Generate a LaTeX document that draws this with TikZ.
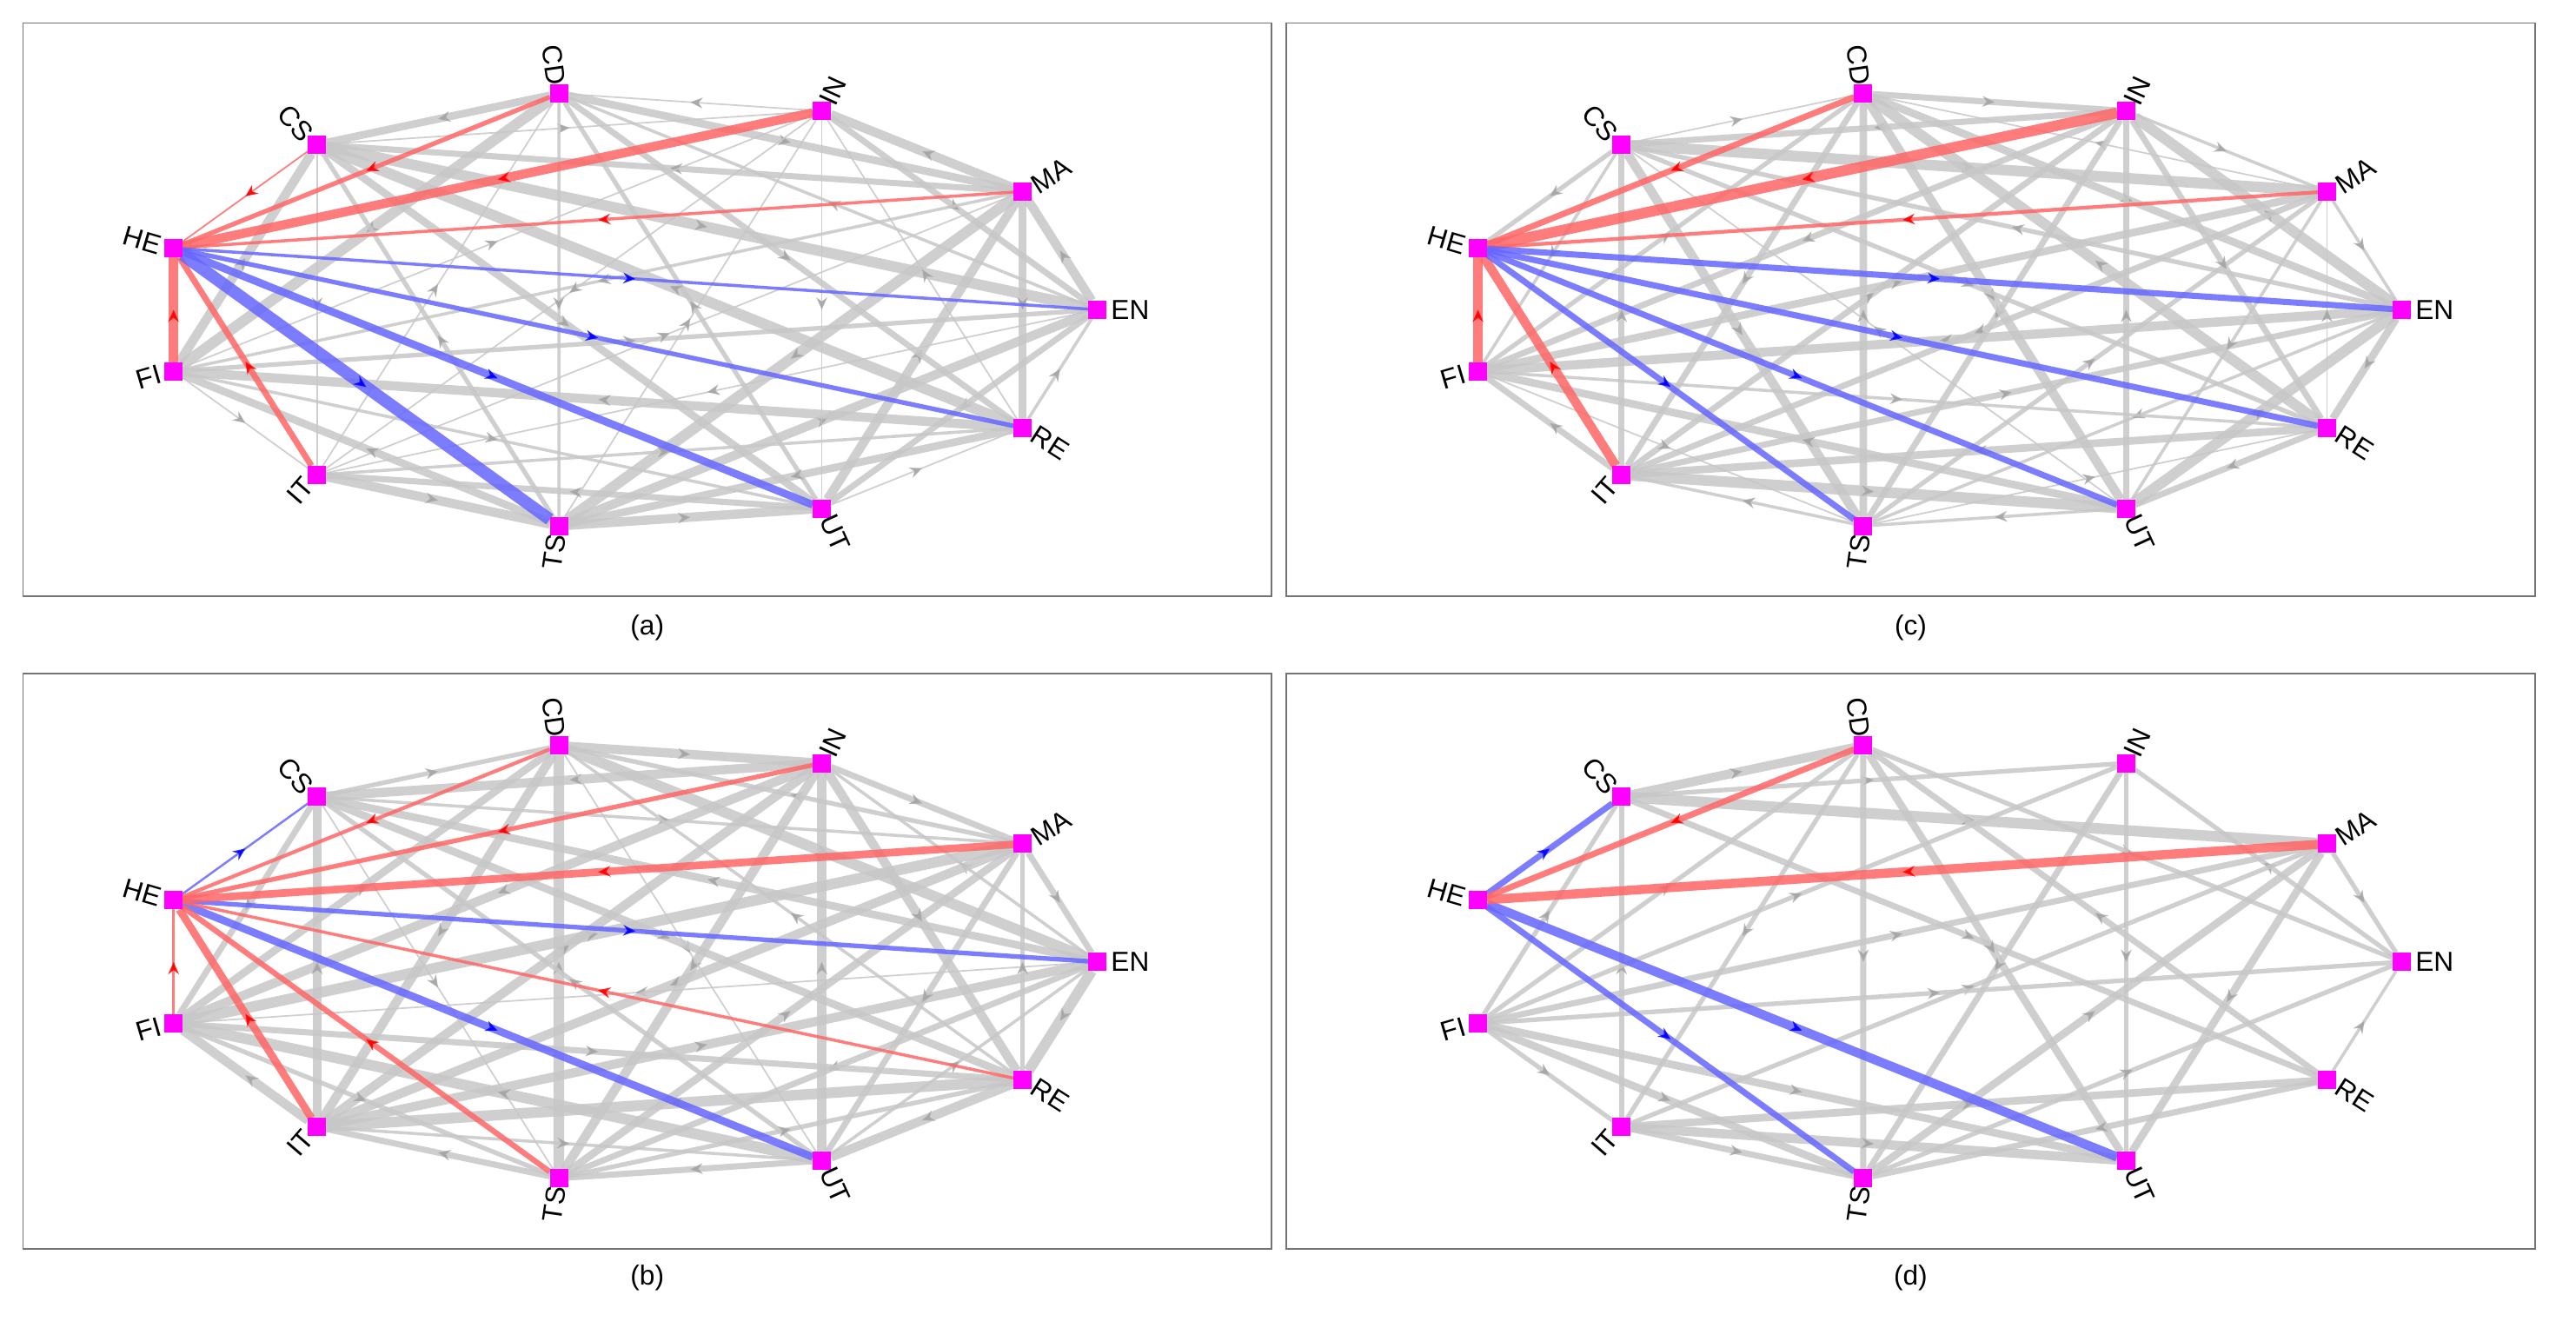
\documentclass[tikz,border=0pt]{standalone}
\usepackage{fontspec}
\setmainfont{Liberation Sans}
\usetikzlibrary{decorations.markings,arrows.meta}
\pgfdeclarelayer{bg}\pgfsetlayers{bg,main}
\definecolor{mag}{RGB}{255,0,255}
\tikzset{
 x=0.0189cm, y=-0.0189cm,
 sq/.style={fill=mag, draw=none, minimum size=0.21cm, inner sep=0pt, outer sep=0pt},
 lab/.style={font=\fontsize{9pt}{10pt}\selectfont, inner sep=0.5pt},
 captxt/.style={font=\fontsize{9pt}{10pt}\selectfont},
 fr/.style={draw=black!55, line width=0.5pt},
 mid/.style={postaction={decorate},decoration={markings,mark=at position 0.5 with {\arrow[#1]{Stealth[length=4pt,width=3.5pt]}}}},
 ge/.style={draw=black!22, opacity=0.85, mid=black!35},
 hr/.style={draw=red!60, opacity=0.85, mid=red},
 hb/.style={draw=blue!60, opacity=0.85, mid=blue},
}
\def\rr{r}\def\bb{b}
\newcommand\mynodes[3]{%
 \foreach \k/\t in {0/EN,1/MA,2/IN,3/CD,4/CS,5/HE,6/FI,7/IT,8/TS,9/UT,10/RE}{%
  \pgfmathsetmacro\ang{\k*360/11}%
  \node[sq] (#1\k) at ({#2+287*cos(\ang)},{#3-133*sin(\ang)}) {};
  \pgfmathsetmacro\lx{#2+294*cos(\ang)}\pgfmathsetmacro\ly{#3-137*sin(\ang)}%
  \ifdim\ang pt>90pt\ifdim\ang pt<270pt
   \pgfmathsetmacro\rot{\ang-180}\node[lab,anchor=east,rotate=\rot] (#1L\k) at (\lx,\ly) {\t};
  \else \node[lab,anchor=west,rotate=\ang] (#1L\k) at (\lx,\ly) {\t};\fi
  \else \node[lab,anchor=west,rotate=\ang] (#1L\k) at (\lx,\ly) {\t};\fi
 }}
\newcommand\fullgray[2]{%
 \foreach \i in {0,...,10}{\foreach \j in {0,...,10}{%
  \ifnum\i<\j \ifnum\i=5 \else\ifnum\j=5 \else
   \pgfmathsetmacro\w{0.5+mod(\i*7+\j*5+\i*\j+#2,7)*0.5}%
   \ifodd\numexpr\i+\j+#2\relax \draw[ge,line width=\w pt] (#1\i) -- (#1\j);
   \else \draw[ge,line width=\w pt] (#1\j) -- (#1\i);\fi
  \fi\fi\fi}}}
\newcommand\heedges[2]{%
 \foreach \t/\w/\c in {#2}{%
  \edef\cc{\c}%
  \ifx\cc\rr \draw[hr,line width=\w pt] (#1\t) -- (#15);
  \else\ifx\cc\bb \draw[hb,line width=\w pt] (#15) -- (#1\t);
  \else \draw[ge,line width=\w pt] (#1\t) -- (#15);\fi\fi}}
\begin{document}
\begin{tikzpicture}
\useasboundingbox (0,0) rectangle (1568,808);
\draw[fr] (14,14) rectangle (774,363);
\draw[fr] (783,14) rectangle (1543,363);
\draw[fr] (14,410) rectangle (774,760);
\draw[fr] (783,410) rectangle (1543,760);
\node[captxt] (ca) at (394,382) {(a)};
\node[captxt] (cc) at (1163,382) {(c)};
\node[captxt] (cb) at (394,778) {(b)};
\node[captxt] (cd) at (1163,778) {(d)};
\mynodes{a}{381}{188.5}
\mynodes{c}{1175}{188.5}
\mynodes{b}{381}{585.5}
\mynodes{d}{1175}{585.5}
\begin{pgfonlayer}{bg}
\fill[white] (0,0) rectangle (1568,808);
\fullgray{a}{0}
\fullgray{c}{3}
\fullgray{b}{5}
\heedges{a}{4/0.5/r,3/1.5/r,2/3/r,1/1/r,6/3/r,7/2/r,0/1/b,10/1.5/b,9/2.5/b,8/4/b}
\heedges{b}{4/0.7/b,0/1.5/b,9/2.5/b,3/1.2/r,2/1.5/r,1/2.5/r,10/1/r,8/1.8/r,7/2.5/r,6/0.8/r}
\heedges{c}{4/1.5/g,3/2/r,2/3.5/r,1/1.2/r,6/3/r,7/3/r,0/2/b,10/2/b,9/2/b,8/2/b}
\foreach \p/\q/\w in {4/3/3,4/2/1.5,4/1/3.5,7/4/1.5,6/4/1.5,4/10/2,3/8/2,3/9/2.5,10/3/2,3/0/1.5,6/3/1.5,3/7/1.5,6/2/1.5,2/8/2,2/9/1.5,0/2/1.5,6/1/2,8/1/2.5,1/9/2.5,1/0/1.5,7/1/1.5,6/0/1.5,10/0/1,7/10/2.5,10/8/2,6/9/2.5,7/9/3,6/8/2.5,7/8/2,6/7/1.5,8/0/1.5}
 {\draw[ge,line width=\w pt] (d\p) -- (d\q);}
\heedges{d}{4/2/b,8/2/b,9/3/b,3/2/r,1/3/r}
\end{pgfonlayer}
\end{tikzpicture}
\end{document}
